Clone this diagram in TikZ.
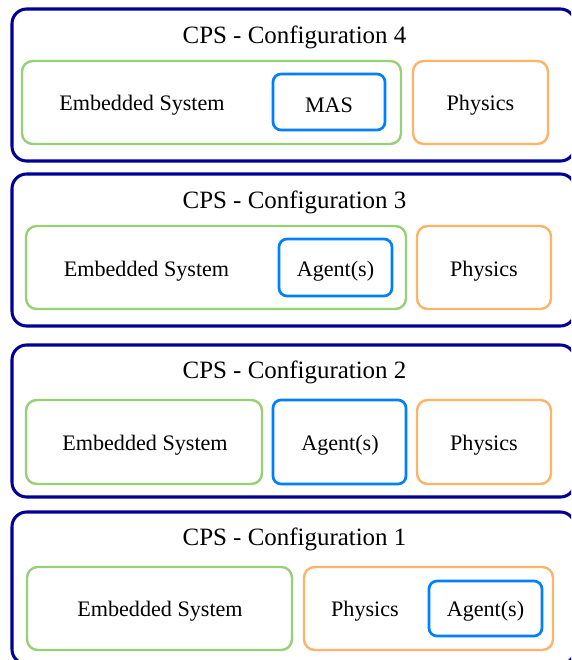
\documentclass[tikz,border=0pt]{standalone}
\usepackage{fontspec}
\setmainfont{Liberation Serif}
\usetikzlibrary{fit}
\definecolor{cpsnavy}{HTML}{000099}
\definecolor{esgreen}{HTML}{97D077}
\definecolor{phyorange}{HTML}{FFB366}
\definecolor{agblue}{HTML}{007FFF}
\tikzset{
  cpsbox/.style={draw=cpsnavy, line width=2.3pt, rounded corners=11pt, inner sep=0pt},
  esbox/.style={draw=esgreen, line width=1.8pt, rounded corners=8pt, inner sep=0pt},
  phybox/.style={draw=phyorange, line width=1.8pt, rounded corners=8pt, inner sep=0pt},
  agbox/.style={draw=agblue, line width=2pt, rounded corners=6pt, inner sep=0pt},
  ttl/.style={font=\fontsize{18.7}{22}\selectfont, inner sep=0pt},
  lbl/.style={font=\fontsize{16.6}{20}\selectfont, inner sep=0pt}
}
\begin{document}
\begin{tikzpicture}[x=0.75pt,y=-0.75pt]
\useasboundingbox (0,0) rectangle (571,660);
\clip (0,0) rectangle (571,660);
\fill[white] (0,0) rectangle (571,660);

% Configuration 4: MAS inside the embedded system
\node[cpsbox, fit={(12,9)(575,161)}] (c4) {};
\node[ttl] (c4t) at (294.5,37.5) {CPS - Configuration 4};
\node[esbox, fit={(22,61)(401,144)}] (c4es) {};
\node[agbox, fit={(273,74)(385,130)}] (c4ag) {};
\node[phybox, fit={(413,61)(548,144)}] (c4ph) {};
\node[lbl] (c4est) at (142,105.5) {Embedded System};
\node[lbl] (c4agt) at (329,105.5) {MAS};
\node[lbl] (c4pht) at (480.5,105.5) {Physics};

% Configuration 3: agents inside the embedded system
\node[cpsbox, fit={(12,174)(575,326)}] (c3) {};
\node[ttl] (c3t) at (294.5,202.5) {CPS - Configuration 3};
\node[esbox, fit={(26,226)(406,309)}] (c3es) {};
\node[agbox, fit={(279,239)(392,296)}] (c3ag) {};
\node[phybox, fit={(417,226)(551,309)}] (c3ph) {};
\node[lbl] (c3est) at (146.5,271.5) {Embedded System};
\node[lbl] (c3agt) at (335.5,271.5) {Agent(s)};
\node[lbl] (c3pht) at (484,271.5) {Physics};

% Configuration 2: agents as a separate block
\node[cpsbox, fit={(12,345)(575,497)}] (c2) {};
\node[ttl] (c2t) at (294.5,372.5) {CPS - Configuration 2};
\node[esbox, fit={(26,400)(262,484)}] (c2es) {};
\node[agbox, fit={(273,400)(406,484)}] (c2ag) {};
\node[phybox, fit={(417,400)(551,484)}] (c2ph) {};
\node[lbl] (c2est) at (145,445.5) {Embedded System};
\node[lbl] (c2agt) at (340,445.5) {Agent(s)};
\node[lbl] (c2pht) at (484,445.5) {Physics};

% Configuration 1: agents inside the physics
\node[cpsbox, fit={(12,512)(575,664)}] (c1) {};
\node[ttl] (c1t) at (294.5,539.5) {CPS - Configuration 1};
\node[esbox, fit={(27,567)(292,650)}] (c1es) {};
\node[phybox, fit={(304,567)(553,650)}] (c1ph) {};
\node[agbox, fit={(429,581)(542,636)}] (c1ag) {};
\node[lbl] (c1est) at (160,611.5) {Embedded System};
\node[lbl] (c1pht) at (365,611.5) {Physics};
\node[lbl] (c1agt) at (485.5,611.5) {Agent(s)};
\end{tikzpicture}
\end{document}
